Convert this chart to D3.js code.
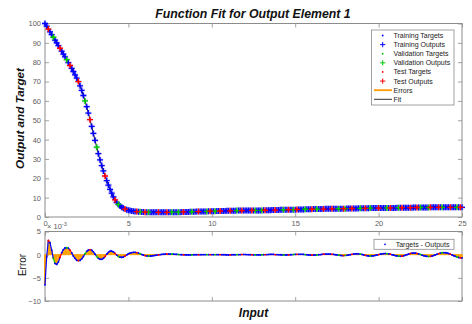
<!DOCTYPE html>
<html><head><meta charset="utf-8">
<script src="https://cdn.jsdelivr.net/npm/d3@7"></script>
<style>body{margin:0;background:#fff}svg{display:block}text{font-family:"Liberation Sans",Arial,sans-serif}</style>
</head><body><svg id="c" width="472" height="324"></svg>
<script>
// ---- data ----
const inputs = [0,0.1,0.2,0.3,0.4,0.5,0.6,0.7,0.8,0.9,1,1.1,1.2,1.3,1.4,1.5,1.6,1.7,1.8,1.9,2,2.1,2.2,2.3,2.4,2.5,2.6,2.7,2.8,2.9,3,3.1,3.2,3.3,3.4,3.5,3.6,3.7,3.8,3.9,4,4.1,4.2,4.3,4.4,4.5,4.6,4.7,4.8,4.9,5,5.1,5.2,5.3,5.4,5.5,5.6,5.7,5.8,5.9,6,6.1,6.2,6.3,6.4,6.5,6.6,6.7,6.8,6.9,7,7.1,7.2,7.3,7.4,7.5,7.6,7.7,7.8,7.9,8,8.1,8.2,8.3,8.4,8.5,8.6,8.7,8.8,8.9,9,9.1,9.2,9.3,9.4,9.5,9.6,9.7,9.8,9.9,10,10.1,10.2,10.3,10.4,10.5,10.6,10.7,10.8,10.9,11,11.1,11.2,11.3,11.4,11.5,11.6,11.7,11.8,11.9,12,12.1,12.2,12.3,12.4,12.5,12.6,12.7,12.8,12.9,13,13.1,13.2,13.3,13.4,13.5,13.6,13.7,13.8,13.9,14,14.1,14.2,14.3,14.4,14.5,14.6,14.7,14.8,14.9,15,15.1,15.2,15.3,15.4,15.5,15.6,15.7,15.8,15.9,16,16.1,16.2,16.3,16.4,16.5,16.6,16.7,16.8,16.9,17,17.1,17.2,17.3,17.4,17.5,17.6,17.7,17.8,17.9,18,18.1,18.2,18.3,18.4,18.5,18.6,18.7,18.8,18.9,19,19.1,19.2,19.3,19.4,19.5,19.6,19.7,19.8,19.9,20,20.1,20.2,20.3,20.4,20.5,20.6,20.7,20.8,20.9,21,21.1,21.2,21.3,21.4,21.5,21.6,21.7,21.8,21.9,22,22.1,22.2,22.3,22.4,22.5,22.6,22.7,22.8,22.9,23,23.1,23.2,23.3,23.4,23.5,23.6,23.7,23.8,23.9,24,24.1,24.2,24.3,24.4,24.5,24.6,24.7,24.8,24.9,25];
const targets = [100,98.6,97.1,95.7,94.3,92.9,91.4,90.0,88.6,87.2,
85.7,84.2,82.8,81.3,79.8,78.3,76.8,75.2,73.5,71.8,
70.0,67.8,65.4,62.8,60.0,57.0,53.7,50.3,46.8,43.2,
39.6,36.1,32.7,29.5,26.6,23.8,21.2,18.8,16.5,14.3,
12.3,10.4,8.8,7.5,6.5,5.7,5.0,4.5,4.1,3.8,
3.5,3.3,3.1,3.0,2.9,2.8,2.7,2.7,2.6,2.6,
2.5,2.5,2.5,2.5,2.4,2.4,2.4,2.4,2.4,2.4,
2.4,2.4,2.4,2.4,2.4,2.4,2.5,2.5,2.5,2.5,
2.5,2.5,2.6,2.6,2.6,2.6,2.6,2.7,2.7,2.7,
2.7,2.8,2.8,2.8,2.8,2.9,2.9,2.9,3.0,3.0,
3.0,3.0,3.0,3.1,3.1,3.1,3.1,3.1,3.1,3.2,
3.2,3.2,3.2,3.2,3.2,3.3,3.3,3.3,3.3,3.3,
3.3,3.4,3.4,3.4,3.4,3.4,3.4,3.4,3.4,3.4,
3.4,3.5,3.5,3.5,3.5,3.5,3.6,3.6,3.6,3.6,
3.6,3.7,3.7,3.7,3.7,3.7,3.8,3.8,3.8,3.8,
3.8,3.9,3.9,3.9,3.9,3.9,4.0,4.0,4.0,4.0,
4.0,4.1,4.1,4.1,4.1,4.1,4.1,4.1,4.2,4.2,
4.2,4.2,4.2,4.2,4.2,4.3,4.3,4.3,4.3,4.3,
4.3,4.4,4.4,4.4,4.4,4.4,4.4,4.4,4.5,4.5,
4.5,4.5,4.5,4.5,4.5,4.6,4.6,4.6,4.6,4.6,
4.6,4.7,4.7,4.7,4.7,4.7,4.7,4.7,4.7,4.7,
4.7,4.8,4.8,4.8,4.8,4.8,4.8,4.8,4.8,4.8,
4.8,4.9,4.9,4.9,4.9,4.9,4.9,4.9,4.9,4.9,
4.9,5.0,5.0,5.0,5.0,5.0,5.0,5.0,5.0,5.0,
5.0,5.0,5.0,5.0,5.0,5.0,5.0,5.0,5.0,5.0,
5.0];
// errors (targets - outputs), in units of 1e-3
const errors = [-6.5,-0.5,3.1,2.6,1.0,-0.8,-1.9,-2.1,-1.6,-0.6,
0.4,1.1,1.45,1.5,1.4,1.0,0.4,-0.3,-0.8,-1.2,
-1.3,-1.25,-0.9,-0.4,0.2,0.7,1.0,1.1,0.95,0.6,
0.1,-0.4,-0.8,-1.0,-1.0,-0.8,-0.4,0.1,0.5,0.75,
0.75,0.6,0.3,-0.1,-0.4,-0.55,-0.6,-0.5,-0.3,-0.05,
0.2,0.35,0.45,0.5,0.5,0.45,0.35,0.2,0.05,-0.1,
-0.2,-0.28,-0.3,-0.3,-0.27,-0.22,-0.16,-0.1,-0.04,0.02,
0.06,0.09,0.11,0.12,0.12,0.12,0.11,0.1,0.08,0.06,
0.04,0.02,0.0,-0.02,-0.03,-0.04,-0.04,-0.04,-0.03,-0.02,
-0.01,0.0,0.0,0.0,0.01,0.01,0.01,0.02,0.02,0.02,
0.02,0.03,0.03,0.03,0.02,0.01,0.0,-0.01,-0.02,-0.03,
-0.03,-0.03,-0.02,-0.01,0.0,0.01,0.02,0.03,0.04,0.04,
0.04,0.03,0.02,0.0,-0.01,-0.03,-0.04,-0.04,-0.04,-0.03,
-0.02,0.0,0.02,0.03,0.04,0.05,0.05,0.05,0.03,0.02,
0.0,-0.02,-0.04,-0.05,-0.06,-0.06,-0.04,-0.02,0.01,0.04,
0.06,0.07,0.08,0.08,0.07,0.05,0.02,-0.02,-0.05,-0.08,
-0.09,-0.09,-0.08,-0.06,-0.02,0.02,0.06,0.1,0.12,0.13,
0.13,0.12,0.09,0.05,-0.01,-0.06,-0.12,-0.16,-0.19,-0.2,
-0.18,-0.14,-0.08,0.0,0.08,0.14,0.18,0.2,0.18,0.13,
0.05,-0.05,-0.15,-0.23,-0.28,-0.3,-0.28,-0.24,-0.16,-0.07,
0.02,0.11,0.19,0.23,0.25,0.23,0.18,0.1,0.0,-0.1,
-0.2,-0.28,-0.33,-0.35,-0.32,-0.25,-0.13,0.0,0.13,0.25,
0.32,0.35,0.33,0.26,0.16,0.04,-0.09,-0.21,-0.31,-0.38,
-0.4,-0.37,-0.3,-0.19,-0.05,0.1,0.24,0.35,0.42,0.45,
0.43,0.36,0.25,0.11,-0.04,-0.21,-0.36,-0.5,-0.61,-0.68,
-0.7];
// data division: b = training, g = validation, r = test
const division = "bbrbbgbbbrbbbgbrbbbbrbbbgbbrbbbgbbbbrbbbbbrbgbbbrbbbbbbrbgbbrbgbbbbbrbbbbrbbgbbbgbbrbbbbgbbbrbbbbgbrbbgbbrbbbbbrbbbgbbrbbbbbrbgbbbgbrbbbbbrbbbbgbbrbbgbrbbbbgbbbrbbgbbbrbbbbrbbbgbbrgbbbrbbbbgbbrbbgbbbbrbbbbgbrbbbbgbrbbbbrbbbrbgbbbbgrbbbbrbgbbbbrbbbgbrb";
const yTicksFit = [0,10,20,30,40,50,60,70,80,90,100];
const xTicks = [0,5,10,15,20,25];
const yTicksErr = [-10,-5,0,5];
const setNames = ["Training","Validation","Test"];
const setKeys = ["b","g","r"];
const setColors = ["#0000ff","#00c800","#ff0000"];
const titleText = "Function Fit for Output Element 1";

// ---- drawing ----
const svg = d3.select("#c");
const X0 = 45, X1 = 462;
const x = d3.scaleLinear().domain([0,25]).range([X0,X1]);
const yF = d3.scaleLinear().domain([0,100]).range([217,23.5]);
const yE = d3.scaleLinear().domain([-10,5]).range([301,231.5]);
const axisCol = "#8c8c8c", labCol = "#606060";
const pts = inputs.map((v,i)=>({x:v,t:targets[i],e:errors[i],o:targets[i]-errors[i]/1000,s:division[i]}));
const colorOf = k => setColors[setKeys.indexOf(k)];

function styleAxis(g, showLabels){
  g.select(".domain").remove();
  g.selectAll(".tick line").attr("stroke",axisCol).attr("stroke-width",0.8);
  g.selectAll(".tick text").attr("fill",labCol).attr("font-size","7.5px").style("font-family","'Liberation Sans',Arial,sans-serif");
  if(!showLabels) g.selectAll(".tick text").remove();
}
function drawAxes(yScale, yTicks, y0, y1, bottomLabels){
  const l = svg.append("g").attr("transform",`translate(${X0},0)`).call(d3.axisLeft(yScale).tickValues(yTicks).tickSizeInner(-4).tickSizeOuter(0).tickPadding(4));
  styleAxis(l,true);
  const r = svg.append("g").attr("transform",`translate(${X1},0)`).call(d3.axisRight(yScale).tickValues(yTicks).tickSizeInner(-4).tickSizeOuter(0));
  styleAxis(r,false);
  const t = svg.append("g").attr("transform",`translate(0,${y0})`).call(d3.axisTop(x).tickValues(xTicks).tickSizeInner(-4).tickSizeOuter(0));
  styleAxis(t,false);
  const b = svg.append("g").attr("transform",`translate(0,${y1})`).call(d3.axisBottom(x).tickValues(xTicks).tickSizeInner(-4).tickSizeOuter(0).tickPadding(4));
  styleAxis(b,bottomLabels);
  svg.append("rect").attr("x",X0).attr("y",y0).attr("width",X1-X0).attr("height",y1-y0)
    .attr("fill","none").attr("stroke",axisCol).attr("stroke-width",1);
}

// top plot
drawAxes(yF, yTicksFit, yF(100), yF(0), true);
const plus = "M-3,0H3M0,-3V3";
// soft halo around the markers
svg.append("g").selectAll("path").data(pts).join("path")
  .attr("transform",d=>`translate(${x(d.x)},${yF(d.o)})`).attr("d",plus)
  .attr("stroke","#c4bcf0").attr("stroke-width",3.2).attr("stroke-opacity",0.55).attr("fill","none");
// fit line
svg.append("path").datum(pts).attr("fill","none").attr("stroke","#000").attr("stroke-width",0.9)
  .attr("d",d3.line().x(d=>x(d.x)).y(d=>yF(d.o)));
setKeys.forEach((k,si)=>{
  const sub = pts.filter(p=>p.s===k);
  svg.append("g").selectAll("circle").data(sub).join("circle")
    .attr("cx",d=>x(d.x)).attr("cy",d=>yF(d.t)).attr("r",1.2).attr("fill",setColors[si]);
  svg.append("g").selectAll("path").data(sub).join("path")
    .attr("transform",d=>`translate(${x(d.x)},${yF(d.o)})`).attr("d",plus)
    .attr("stroke",setColors[si]).attr("stroke-width",1.3).attr("fill","none");
});
// errors in fit plot (tiny orange segments)
svg.append("g").selectAll("line").data(pts).join("line")
  .attr("x1",d=>x(d.x)).attr("x2",d=>x(d.x)).attr("y1",d=>yF(d.t)).attr("y2",d=>yF(d.o))
  .attr("stroke","#ff9900").attr("stroke-width",1.5);

// bottom plot
drawAxes(yE, yTicksErr, yE(5), yE(-10), false);
svg.append("line").attr("x1",x(0)).attr("x2",x(25)).attr("y1",yE(0)).attr("y2",yE(0))
  .attr("stroke","#ffa000").attr("stroke-width",1);
svg.append("g").selectAll("line").data(pts).join("line")
  .attr("x1",d=>x(d.x)).attr("x2",d=>x(d.x)).attr("y1",yE(0)).attr("y2",d=>yE(d.e))
  .attr("stroke","#ffa000").attr("stroke-width",1.9);
// error markers, joined so they read as a continuous dotted trace
const segs = d3.pairs(pts);
svg.append("g").selectAll("line").data(segs).join("line")
  .attr("x1",d=>x(d[0].x)).attr("y1",d=>yE(d[0].e)).attr("x2",d=>x(d[1].x)).attr("y2",d=>yE(d[1].e))
  .attr("stroke",d=>colorOf(d[0].s)).attr("stroke-width",1.2).attr("stroke-linecap","round");
setKeys.forEach((k,si)=>{
  svg.append("g").selectAll("circle").data(pts.filter(p=>p.s===k)).join("circle")
    .attr("cx",d=>x(d.x)).attr("cy",d=>yE(d.e)).attr("r",0.9).attr("fill",setColors[si]);
});
// x10^-3 exponent
const ex = svg.append("text").attr("x",47).attr("y",229).attr("font-size","7.5px").attr("fill",labCol);
ex.append("tspan").text("\u00d7 10");
ex.append("tspan").attr("dy",-3).attr("font-size","5.5px").text("-3");

// titles
svg.append("text").attr("x",253).attr("y",18).attr("text-anchor","middle").attr("font-size","12.3px")
  .attr("font-weight","bold").attr("font-style","italic").attr("fill","#111").text(titleText);
svg.append("text").attr("transform","translate(24,118.5) rotate(-90)").attr("text-anchor","middle")
  .attr("font-size","11.7px").attr("font-weight","bold").attr("font-style","italic").attr("fill","#111").text("Output and Target");
svg.append("text").attr("transform","translate(25.5,265) rotate(-90)").attr("text-anchor","middle")
  .attr("font-size","10px").attr("fill","#111").text("Error");
svg.append("text").attr("x",253.5).attr("y",317).attr("text-anchor","middle").attr("font-size","12px")
  .attr("font-weight","bold").attr("font-style","italic").attr("fill","#111").text("Input");

// legend (top)
const legItems = [];
setNames.forEach((n,i)=>{
  legItems.push({label:n+" Targets",type:"dot",color:setColors[i]});
  legItems.push({label:n+" Outputs",type:"plus",color:setColors[i]});
});
legItems.push({label:"Errors",type:"line",color:"#ff9900",w:1.8});
legItems.push({label:"Fit",type:"line",color:"#333",w:1});
const lg = svg.append("g");
lg.append("rect").attr("x",371.5).attr("y",30).attr("width",82.5).attr("height",75)
  .attr("fill","#fff").attr("stroke","#8a8a8a").attr("stroke-width",0.8);
const ly = d3.scalePoint().domain(legItems.map(d=>d.label)).range([35.5,99.3]);
legItems.forEach(d=>{
  const yy = ly(d.label);
  if(d.type==="dot") lg.append("circle").attr("cx",382.7).attr("cy",yy).attr("r",0.9).attr("fill",d.color);
  else if(d.type==="plus") lg.append("path").attr("transform",`translate(382.7,${yy})`).attr("d","M-2.6,0H2.6M0,-2.6V2.6").attr("stroke",d.color).attr("stroke-width",1).attr("fill","none");
  else lg.append("line").attr("x1",374).attr("x2",392).attr("y1",yy).attr("y2",yy).attr("stroke",d.color).attr("stroke-width",d.w);
  lg.append("text").attr("x",393.5).attr("y",yy+2.5).attr("font-size","7px").attr("fill","#222").text(d.label);
});
// legend (bottom)
const lb = svg.append("g");
lb.append("rect").attr("x",374).attr("y",239.3).attr("width",80).attr("height",10)
  .attr("fill","#fff").attr("stroke","#8a8a8a").attr("stroke-width",0.8);
lb.append("circle").attr("cx",385).attr("cy",244.3).attr("r",0.9).attr("fill","#0000ff");
lb.append("text").attr("x",395.7).attr("y",246.8).attr("font-size","7px").attr("fill","#222").text("Targets - Outputs");
</script></body></html>
